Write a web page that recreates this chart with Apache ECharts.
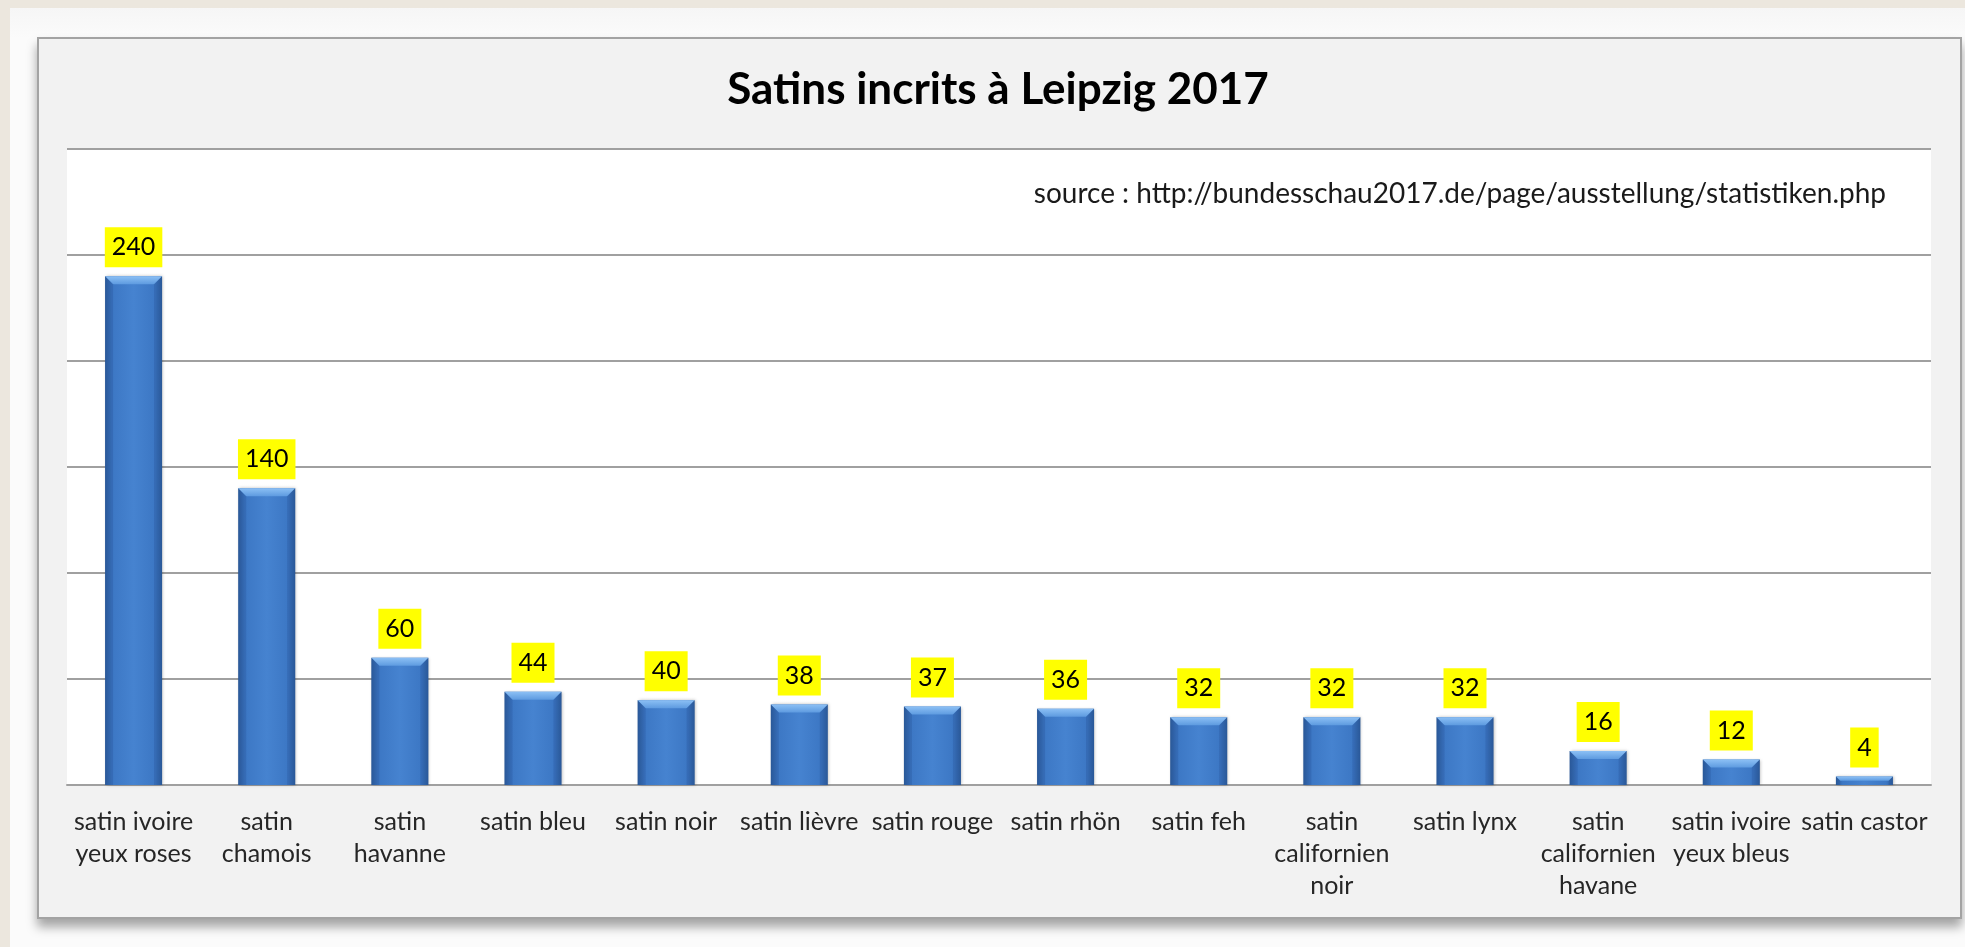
<!DOCTYPE html>
<html>
<head>
<meta charset="utf-8">
<script src="https://cdn.jsdelivr.net/npm/echarts@6/dist/echarts.min.js"></script>
<style>
  html, body { margin: 0; padding: 0; width: 1965px; height: 947px; overflow: hidden; background: #ece7de; }
  #card { position: absolute; left: 10px; top: 8px; right: 0; bottom: 0; background: linear-gradient(#f6f6f6, #fbfbfb 30px, #fbfbfb); }
  #frame { position: absolute; left: 37px; top: 37px; width: 1921px; height: 878px; border: 2px solid #a3a3a3; background: #f2f2f2; box-shadow: 0 8px 10px rgba(0,0,0,0.35); }
  #chart { position: absolute; left: 0; top: 0; width: 1965px; height: 947px; }
</style>
</head>
<body>
<div id="card"></div>
<div id="frame"></div>
<div id="chart"></div>
<script>
const chartTitle = 'Satins incrits à Leipzig 2017';
const sourceNote = 'source : http://bundesschau2017.de/page/ausstellung/statistiken.php';
const categories = [
  'satin ivoire\nyeux roses', 'satin\nchamois', 'satin\nhavanne', 'satin bleu', 'satin noir',
  'satin lièvre', 'satin rouge', 'satin rhön', 'satin feh', 'satin\ncalifornien\nnoir',
  'satin lynx', 'satin\ncalifornien\nhavane', 'satin ivoire\nyeux bleus', 'satin castor'
];
const counts = [240, 140, 60, 44, 40, 38, 37, 36, 32, 32, 32, 16, 12, 4];
const yMin = 0, yMax = 300, yStep = 50;

const FONT = 'Lato, "Open Sans", sans-serif';
const BAR_W = 57;

const chart = echarts.init(document.getElementById('chart'), null, { renderer: 'canvas' });

const bodyGradient = new echarts.graphic.LinearGradient(0, 0, 1, 0, [
  { offset: 0, color: '#2d5e9e' },
  { offset: 0.12, color: '#3c77c4' },
  { offset: 0.5, color: '#4683d0' },
  { offset: 0.88, color: '#3c77c4' },
  { offset: 1, color: '#2d5e9e' }
]);

chart.setOption({
  animation: false,
  backgroundColor: 'transparent',
  graphic: [
    { type: 'text', x: 998, y: 90, silent: true,
      style: { text: chartTitle, fill: '#000', font: 'bold 44px ' + FONT, textAlign: 'center', textVerticalAlign: 'middle' } },
    { type: 'text', x: 1886, y: 194, silent: true,
      style: { text: sourceNote, fill: '#1a1a1a', font: '28px ' + FONT, textAlign: 'right', textVerticalAlign: 'middle' } }
  ],
  grid: { left: 67, right: 34, top: 149, bottom: 162, show: true, backgroundColor: '#ffffff', borderWidth: 0 },
  xAxis: {
    type: 'category',
    data: categories,
    axisTick: { show: false },
    axisLine: { lineStyle: { color: '#a0a0a0', width: 2 } },
    axisLabel: { interval: 0, margin: 21, color: '#262626', fontFamily: FONT, fontSize: 25, lineHeight: 32, hideOverlap: false }
  },
  yAxis: {
    type: 'value', min: yMin, max: yMax, interval: yStep,
    axisLabel: { show: false }, axisLine: { show: false }, axisTick: { show: false },
    splitLine: { lineStyle: { color: '#a0a0a0', width: 2 } }
  },
  series: [
    {
      type: 'bar',
      data: counts,
      barWidth: BAR_W,
      itemStyle: { color: bodyGradient, shadowColor: 'rgba(0,0,0,0.25)', shadowBlur: 3, shadowOffsetX: 1, shadowOffsetY: 0 },
      label: {
        show: true, position: 'top', distance: 9,
        backgroundColor: '#ffff00', color: '#000', fontFamily: FONT, fontSize: 25, lineHeight: 28,
        padding: [6, 7, 6, 7]
      },
      z: 2
    },
    {
      type: 'custom',
      silent: true,
      z: 3,
      data: counts.map((v, i) => [i, v]),
      renderItem: function (params, api) {
        const top = api.coord([api.value(0), api.value(1)]);
        const base = api.coord([api.value(0), 0]);
        const x0 = top[0] - BAR_W / 2;
        const h = base[1] - top[1];
        const b = Math.min(8, h / 2);
        return {
          type: 'group',
          children: [
            { type: 'polygon',
              shape: { points: [[x0, top[1]], [x0 + BAR_W, top[1]], [x0 + BAR_W - b, top[1] + b], [x0 + b, top[1] + b]] },
              style: { fill: new echarts.graphic.LinearGradient(0, 0, 0, 1, [
                { offset: 0, color: '#8cc0f5' }, { offset: 1, color: '#5e9be0' }]) } },
            { type: 'polygon',
              shape: { points: [[x0, top[1]], [x0 + b, top[1] + b], [x0 + b, base[1]], [x0, base[1]]] },
              style: { fill: 'rgba(30,70,130,0.22)' } },
            { type: 'polygon',
              shape: { points: [[x0 + BAR_W, top[1]], [x0 + BAR_W - b, top[1] + b], [x0 + BAR_W - b, base[1]], [x0 + BAR_W, base[1]]] },
              style: { fill: 'rgba(30,70,130,0.22)' } }
          ]
        };
      }
    }
  ]
});
</script>
</body>
</html>
